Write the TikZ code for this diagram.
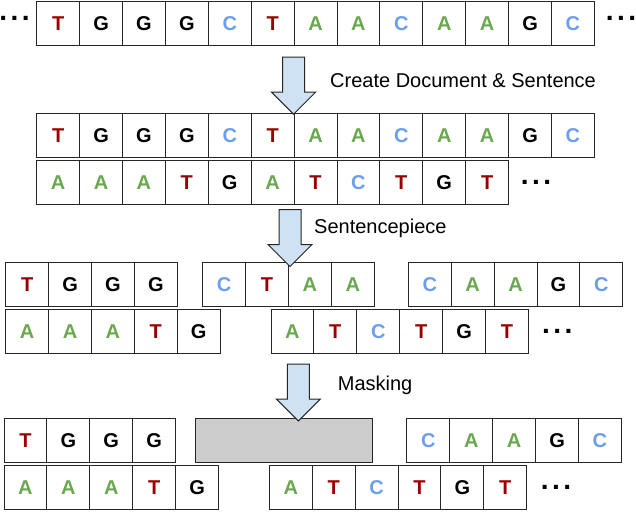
\documentclass[tikz,border=0pt]{standalone}
\usepackage{fontspec}
\setmainfont{Liberation Sans}
\usetikzlibrary{positioning,shapes.arrows}
\definecolor{thyred}{HTML}{990000}
\definecolor{cytblue}{HTML}{6D9EEB}
\definecolor{adegreen}{HTML}{6AA84F}
\definecolor{flowblue}{HTML}{CFE2F3}
\definecolor{maskgray}{HTML}{CCCCCC}
\tikzset{node distance=0pt,
	base/.style={draw=black!85, line width=1pt, rectangle, minimum width=42.9pt, minimum height=44pt, inner sep=0pt, outer sep=0pt, font=\fontsize{20}{24}\selectfont\bfseries},
	ade/.style={base,text=adegreen}, cyt/.style={base,text=cytblue}, gua/.style={base,text=black}, thy/.style={base,text=thyred},
	mask/.style={base,fill=maskgray,minimum width=177pt},
	flow/.style={single arrow, draw=black!85, line width=1pt, fill=flowblue, inner sep=0pt, inner ysep=10.5pt, single arrow head extend=11pt, minimum height=57pt, rotate=-90},
	lab/.style={anchor=west, inner sep=0pt, text height=14.3pt, text depth=0pt, font=\fontsize{20}{24}\selectfont},
	ellip/.style={inner sep=0pt, font=\fontsize{28}{30}\selectfont\bfseries}}

\begin{document}
\begin{tikzpicture}[x=1pt,y=-1pt]
				\useasboundingbox (0,0) rectangle (636,512);

				\node[thy] (a1) at (58.15,23.85) {T};
				\node[gua] (a2) [right=of a1] {G};
				\node[gua] (a3) [right=of a2] {G};
				\node[gua] (a4) [right=of a3] {G};
				\node[cyt] (a5) [right=of a4] {C};
				\node[thy] (a6) [right=of a5] {T};
				\node[ade] (a7) [right=of a6] {A};
				\node[ade] (a8) [right=of a7] {A};
				\node[cyt] (a9) [right=of a8] {C};
				\node[ade] (a10) [right=of a9] {A};
				\node[ade] (a11) [right=of a10] {A};
				\node[gua] (a12) [right=of a11] {G};
				\node[cyt] (a13) [right=of a12] {C};
				\node[ellip] (l1) at (14.5,18.7) {.\kern3.5pt.\kern3.5pt.};
				\node[ellip] (l2) at (621,18.7) {.\kern3.5pt.\kern3.5pt.};

				\node[thy] (b1) [below=67.4pt of a1] {T};
				\node[gua] (b2) [right=of b1] {G};
				\node[gua] (b3) [right=of b2] {G};
				\node[gua] (b4) [right=of b3] {G};
				\node[cyt] (b5) [right=of b4] {C};
				\node[thy] (b6) [right=of b5] {T};
				\node[ade] (b7) [right=of b6] {A};
				\node[ade] (b8) [right=of b7] {A};
				\node[cyt] (b9) [right=of b8] {C};
				\node[ade] (b10) [right=of b9] {A};
				\node[ade] (b11) [right=of b10] {A};
				\node[gua] (b12) [right=of b11] {G};
				\node[cyt] (b13) [right=of b12] {C};

				\node[ade] (c1) [below=3.4pt of b1] {A};
				\node[ade] (c2) [right=of c1] {A};
				\node[ade] (c3) [right=of c2] {A};
				\node[thy] (c4) [right=of c3] {T};
				\node[gua] (c5) [right=of c4] {G};
				\node[ade] (c6) [right=of c5] {A};
				\node[thy] (c7) [right=of c6] {T};
				\node[cyt] (c8) [right=of c7] {C};
				\node[thy] (c9) [right=of c8] {T};
				\node[gua] (c10) [right=of c9] {G};
				\node[thy] (c11) [right=of c10] {T};
				\node[ellip] (l3) [right=12pt of c11] {.\kern3.5pt.\kern3.5pt.};

				\node[thy] (d1) at (27.15,284.5) {T};
				\node[gua] (d2) [right=of d1] {G};
				\node[gua] (d3) [right=of d2] {G};
				\node[gua] (d4) [right=of d3] {G};
				\node[cyt] (d5) [right=25.4pt of d4] {C};
				\node[thy] (d6) [right=of d5] {T};
				\node[ade] (d7) [right=of d6] {A};
				\node[ade] (d8) [right=of d7] {A};
				\node[cyt] (d9) [right=34pt of d8] {C};
				\node[ade] (d10) [right=of d9] {A};
				\node[ade] (d11) [right=of d10] {A};
				\node[gua] (d12) [right=of d11] {G};
				\node[cyt] (d13) [right=of d12] {C};

				\node[ade] (e1) [below=3.4pt of d1] {A};
				\node[ade] (e2) [right=of e1] {A};
				\node[ade] (e3) [right=of e2] {A};
				\node[thy] (e4) [right=of e3] {T};
				\node[gua] (e5) [right=of e4] {G};
				\node[ade] (e6) [right=50.8pt of e5] {A};
				\node[thy] (e7) [right=of e6] {T};
				\node[cyt] (e8) [right=of e7] {C};
				\node[thy] (e9) [right=of e8] {T};
				\node[gua] (e10) [right=of e9] {G};
				\node[thy] (e11) [right=of e10] {T};
				\node[ellip] (l4) [right=13.5pt of e11] {.\kern3.5pt.\kern3.5pt.};

				\node[thy] (f1) at (25.45,440.3) {T};
				\node[gua] (f2) [right=of f1] {G};
				\node[gua] (f3) [right=of f2] {G};
				\node[gua] (f4) [right=of f3] {G};
				\node[mask] (m1) [right=20pt of f4] {};
				\node[cyt] (f5) [right=34.3pt of m1] {C};
				\node[ade] (f6) [right=of f5] {A};
				\node[ade] (f7) [right=of f6] {A};
				\node[gua] (f8) [right=of f7] {G};
				\node[cyt] (f9) [right=of f8] {C};

				\node[ade] (g1) [below=3.4pt of f1] {A};
				\node[ade] (g2) [right=of g1] {A};
				\node[ade] (g3) [right=of g2] {A};
				\node[thy] (g4) [right=of g3] {T};
				\node[gua] (g5) [right=of g4] {G};
				\node[ade] (g6) [right=50.8pt of g5] {A};
				\node[thy] (g7) [right=of g6] {T};
				\node[cyt] (g8) [right=of g7] {C};
				\node[thy] (g9) [right=of g8] {T};
				\node[gua] (g10) [right=of g9] {G};
				\node[thy] (g11) [right=of g10] {T};
				\node[ellip] (l5) [right=14pt of g11] {.\kern3.5pt.\kern3.5pt.};

				\node[flow] (ar1) at (293.5,80.2) {};
				\node[flow] (ar2) at (290,232.5) {};
				\node[flow] (ar3) at (298.3,387) {};
				\node[lab] (t1) at (330,80) {Create Document \& Sentence};
				\node[lab] (t2) at (314,226.3) {Sentencepiece};
				\node[lab] (t3) at (337.7,383.3) {Masking};
			\end{tikzpicture}
\end{document}
